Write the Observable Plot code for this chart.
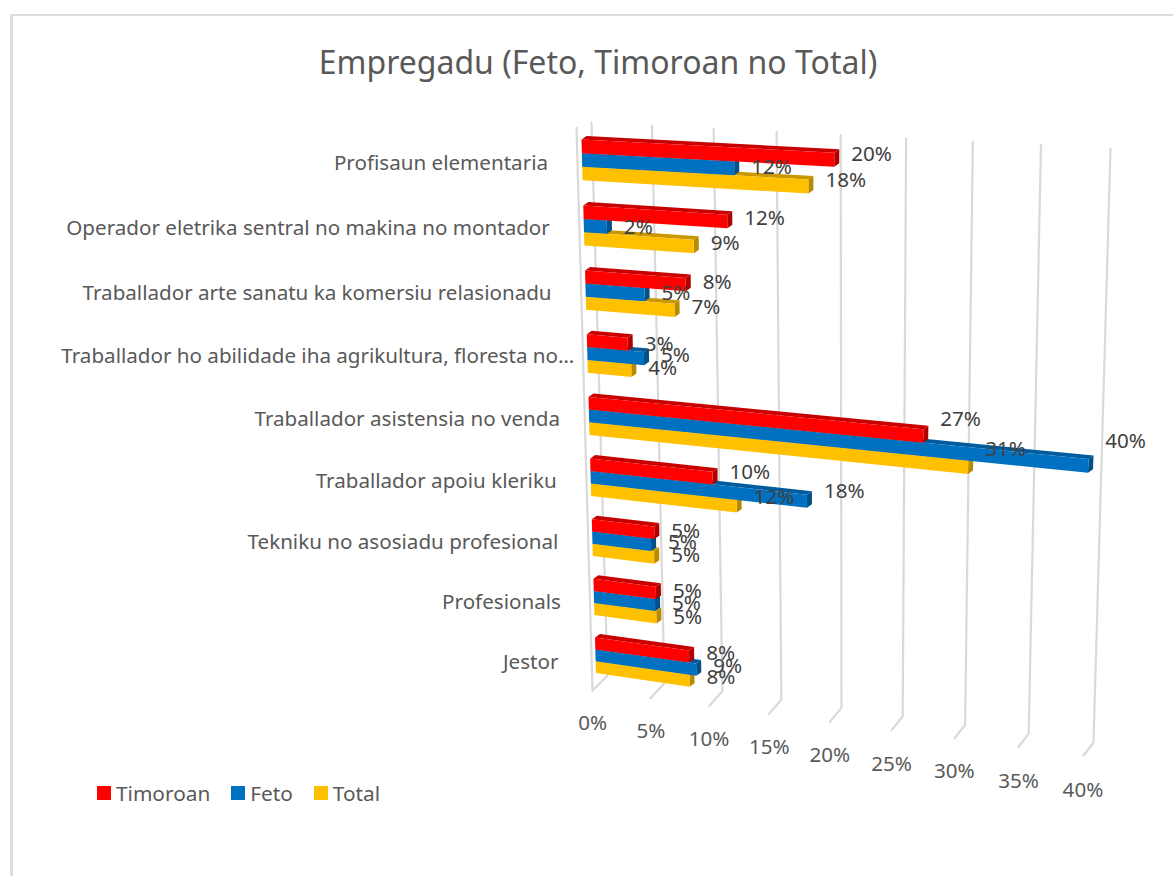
<!DOCTYPE html>
<html><head><meta charset="utf-8">
<script src="https://cdn.jsdelivr.net/npm/d3@7"></script>
<script src="https://cdn.jsdelivr.net/npm/@observablehq/plot@0.6"></script>
<style>
html,body{margin:0;padding:0;background:#fff;overflow:hidden}
#root{position:relative;width:1173px;height:876px;overflow:hidden;font-family:"Noto Sans",sans-serif}
#frame{position:absolute;left:10px;top:14px;width:1200px;height:900px;border-left:3px solid #dcdcdc;border-top:2px solid #dcdcdc}
#title{position:absolute;left:0;top:39px;width:1196px;text-align:center;font-size:32px;line-height:46px;color:#595959;white-space:nowrap}
#root svg.chart{position:absolute;left:0;top:0}
#legend{position:absolute;left:97px;top:776px}
</style></head><body>
<div id="root"><div id="frame"></div><div id="title">Empregadu (Feto, Timoroan no Total)</div></div>
<script>
const categories = [
  "Profisaun elementaria",
  "Operador eletrika sentral no makina no montador",
  "Traballador arte sanatu ka komersiu relasionadu",
  "Traballador ho abilidade iha agrikultura, floresta no…",
  "Traballador asistensia no venda",
  "Traballador apoiu kleriku",
  "Tekniku no asosiadu profesional",
  "Profesionals",
  "Jestor"
];
const timoroan = [20.35, 11.9, 8.45, 3.49, 27.49, 10.49, 5.45, 5.49, 8.3];
const feto     = [12.49, 1.95, 5.0, 4.85, 40.0, 18.3, 5.15, 5.4, 8.9];
const total    = [18.35, 9.15, 7.49, 3.75, 31.0, 12.49, 5.4, 5.49, 8.3];
const ticks = [0, 5, 10, 15, 20, 25, 30, 35, 40];

const seriesNames = ["Timoroan", "Feto", "Total"];
const seriesValues = [timoroan, feto, total];
const colors = ["#ff0000", "#0070c0", "#ffc000"];
const topShades = ["#c80000", "#005c9e", "#c99800"];
const sideShades = ["#b00000", "#00508a", "#b88a00"];

// Layout nudges, in pixels
const catDx = [-34, -34, -34, -13, -29, -34, -34, -33, -37];
const catDy = [-2, -2, -2, -2, -2, -1, 0, 0, 2];
const valueDy = [
  [0, 2, 3, 5, -12, -1, 4, 3, 2],
  [4, 5, 4, 2, -20, -5, 3, 3, 2],
  [-1, 2, 2, 3, -13, -4, 3, 5, 2]
];
const tickDx = [0.5, 3, 4.4, 6.8, 8.2, 9.7, 11.1, 12.6, 13];
const tickDy = [5, 5, 4, 3, 2, 2, 0, 0, -1];

// Perspective of the picture: four quads standing for the planes of the 3D scene
const V = 40, R = 8, barH = 0.205;
const quads = [
  [[581,139],[1100,166],[1078,704],[594.5,637]],         // bar fronts
  [[586,135.5],[1105,162.5],[1083,700.5],[599.5,633.5]], // bar backs
  [[591,122],[1110,148],[1093,742],[607,675]],           // back wall
  [[576,127],[1095,155],[1083,755],[592,690]]            // front edge of the floor
];
function homography(q){
  const [[x0,y0],[x1,y1],[x2,y2],[x3,y3]] = q;
  const dx1=x1-x2, dx2=x3-x2, sx=x0-x1+x2-x3, dy1=y1-y2, dy2=y3-y2, sy=y0-y1+y2-y3;
  const den=dx1*dy2-dx2*dy1;
  const g=(sx*dy2-dx2*sy)/den, h=(dx1*sy-sx*dy1)/den;
  const a=x1-x0+g*x1, b=x3-x0+h*x3, d=y1-y0+g*y1, e=y3-y0+h*y3;
  return (u,v)=>{const w=g*u+h*v+1; return [(a*u+b*v+x0)/w,(d*u+e*v+y0)/w];};
}
const planes = quads.map(homography);
const scene = () => d3.geoTransform({
  point(v, r, z){ const [px,py] = planes[z||0](v/V, r/R); this.stream.point(px,py); }
});

const poly = (pts) => ({type:"Polygon", coordinates:[[...pts, pts[0]]]});
const rows = categories.map((c,i)=>i);

function faces(s){
  return rows.map(i=>{
    const v = seriesValues[s][i], r0 = i + s*barH, r1 = r0 + barH;
    return {
      series: seriesNames[s],
      front: poly([[0,r0,0],[v,r0,0],[v,r1,0],[0,r1,0]]),
      top: poly([[0,r0,0],[0,r0,1],[v,r0,1],[v,r0,0]]),
      side: poly([[v,r0,0],[v,r0,1],[v,r1,1],[v,r1,0]])
    };
  });
}
const gridLines = ticks.map(t=>({type:"LineString",coordinates:[[t,0,2],[t,R,2],[t,R,3]]}));
const leftEdge = {type:"LineString",coordinates:[[0,0,3],[0,R,3]]};

const barMarks = [2,1,0].flatMap(s=>{
  const f = faces(s);
  return [
    Plot.geo(f,{geometry:d=>d.top, fill:topShades[s]}),
    Plot.geo(f,{geometry:d=>d.side, fill:sideShades[s]}),
    Plot.geo(f,{geometry:d=>d.front, fill:"series"})
  ];
});
const valueLabels = [0,1,2].flatMap(s=>rows.map(i=>({s,i,v:seriesValues[s][i], r:i+(s+0.5)*barH})));
const font = {fontSize:20.6, fontFamily:"Noto Sans"};

const plot = Plot.plot({
  width:1173, height:876, margin:0, className:"chart",
  style:{background:"transparent"},
  projection:{type:scene},
  color:{domain:seriesNames, range:colors},
  marks:[
    Plot.geo(gridLines,{stroke:"#d9d9d9",strokeWidth:2.2}),
    Plot.geo([leftEdge],{stroke:"#d9d9d9",strokeWidth:2.2}),
    ...barMarks,
    Plot.text(valueLabels,{x:"v",y:"r",text:d=>Math.round(d.v)+"%",textAnchor:"start",dx:17,dy:-5,fill:"#404040",...font}),
    Plot.text(rows,{x:()=>0,y:i=>i+1.5*barH,text:i=>categories[i],textAnchor:"end",dy:5,fill:"#595959",...font}),
    Plot.text(ticks,{x:d=>d,y:()=>9.4,text:d=>d+"%",dx:-5,fill:"#595959",...font})
  ]
});
const textGroups = plot.querySelectorAll("g[aria-label='text']");
textGroups[0].querySelectorAll("text").forEach((t,k)=>{const d=valueLabels[k]; t.setAttribute("dy",valueDy[d.s][d.i]);});
textGroups[1].querySelectorAll("text").forEach((t,i)=>{t.setAttribute("dx",catDx[i]);t.setAttribute("dy",catDy[i]);});
textGroups[2].querySelectorAll("text").forEach((t,i)=>{t.setAttribute("dx",tickDx[i]);t.setAttribute("dy",tickDy[i]);});
document.getElementById("root").appendChild(plot);
const lg = plot.legend("color",{swatchSize:14});
lg.id="legend";
lg.style.fontSize="20.8px"; lg.style.color="#595959"; lg.style.fontFamily='"Noto Sans"';
lg.style.margin="0";
lg.querySelectorAll("span").forEach(s=>{s.style.marginRight="21px";});
lg.querySelectorAll("svg").forEach(s=>{s.style.marginRight="5px";});
document.getElementById("root").appendChild(lg);
</script>
</body></html>
